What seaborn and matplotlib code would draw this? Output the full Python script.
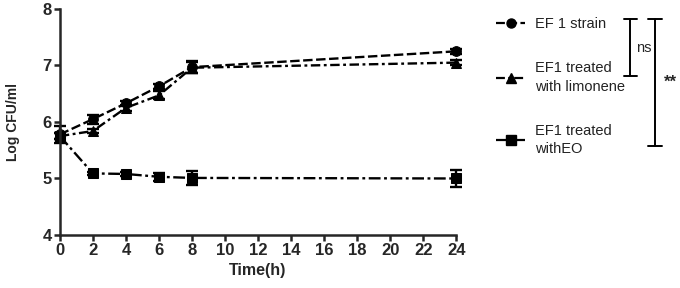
import numpy as np
import pandas as pd
import matplotlib
matplotlib.use("Agg")
import matplotlib.pyplot as plt
import seaborn as sns
from matplotlib.lines import Line2D

# Data
hours = [0, 2, 4, 6, 8, 24]
strain = [5.78, 6.05, 6.33, 6.63, 6.97, 7.25]
strain_err = [0.15, 0.08, 0.04, 0.04, 0.10, 0.04]
limonene = [5.75, 5.84, 6.25, 6.47, 6.96, 7.05]
limonene_err = [0.05, 0.03, 0.05, 0.07, 0.10, 0.05]
eo = [5.75, 5.09, 5.08, 5.03, 5.01, 5.00]
eo_err = [0.05, 0.03, 0.03, 0.07, 0.12, 0.15]
labels = ["EF 1 strain", "EF1 treated\nwith limonene", "EF1 treated\nwithEO"]

sns.set_style("ticks")
plt.rcParams['font.family'] = ['Liberation Sans', 'DejaVu Sans']

df = pd.DataFrame({
    "Time": hours * 3,
    "Log": strain + limonene + eo,
    "err": strain_err + limonene_err + eo_err,
    "group": [labels[0]] * 6 + [labels[1]] * 6 + [labels[2]] * 6,
})

fig = plt.figure(figsize=(6.8, 2.88), dpi=100)
ax = fig.add_axes([0.088, 0.184, 0.583, 0.785])

markers = {labels[0]: "o", labels[1]: "^", labels[2]: "s"}
dashes = {labels[0]: (4, 1.5), labels[1]: (4, 1.5, 1.2, 1.5), labels[2]: (5, 1.5, 1.2, 1.5)}

sns.lineplot(data=df, x="Time", y="Log", hue="group", style="group",
             markers=markers, dashes=dashes, palette=["black"] * 3,
             linewidth=1.7, markersize=7, markeredgecolor="black",
             legend=False, ax=ax, clip_on=False)

for g in labels:
    sub = df[df.group == g]
    ax.errorbar(sub.Time, sub.Log, yerr=sub.err, fmt="none", ecolor="black",
                elinewidth=1.7, capsize=4.5, capthick=1.7, clip_on=False)

ax.set_xlim(0, 24)
ax.set_ylim(4, 8)
ax.set_xticks(np.arange(0, 25, 2))
ax.set_yticks([4, 5, 6, 7, 8])
ax.tick_params(axis="both", labelsize=12, width=1.8, length=4, direction="out", pad=2)
for t in ax.get_xticklabels() + ax.get_yticklabels():
    t.set_fontweight("bold")
for s in ["left", "bottom"]:
    ax.spines[s].set_linewidth(1.8)
sns.despine(ax=ax)
ax.set_xlabel("Time(h)", fontsize=11.5, fontweight="bold", labelpad=3)
ax.set_ylabel("Log CFU/ml", fontsize=10, fontweight="bold", labelpad=16)

# custom legend
handles = [Line2D([0], [0], color="black", lw=1.6, dashes=dashes[g], marker=markers[g],
                  markersize=6.5) for g in labels]
leg = fig.legend(handles, labels, loc="upper left", bbox_to_anchor=(0.71, 0.985),
                 frameon=False, fontsize=10.5, handlelength=2.0, labelspacing=2.05,
                 handletextpad=0.7)
for t in leg.get_texts():
    t.set_color("#222222")
    t.set_linespacing(1.4)

# significance brackets
def bracket(x, y0, y1, text, tx, **kw):
    fig.add_artist(Line2D([x, x], [y0, y1], color="black", lw=1.4, transform=fig.transFigure))
    for y in (y0, y1):
        fig.add_artist(Line2D([x - 0.01, x + 0.01], [y, y], color="black", lw=1.4,
                              transform=fig.transFigure))
    fig.text(tx, (y0 + y1) / 2, text, va="center", ha="left", **kw)

bracket(0.927, 1 - 76 / 288, 1 - 19 / 288, "ns", 0.935, fontsize=10.5)
bracket(0.963, 1 - 146 / 288, 1 - 19 / 288, "**", 0.977, fontsize=12, fontweight="bold")

fig.savefig("out.png", dpi=100)
